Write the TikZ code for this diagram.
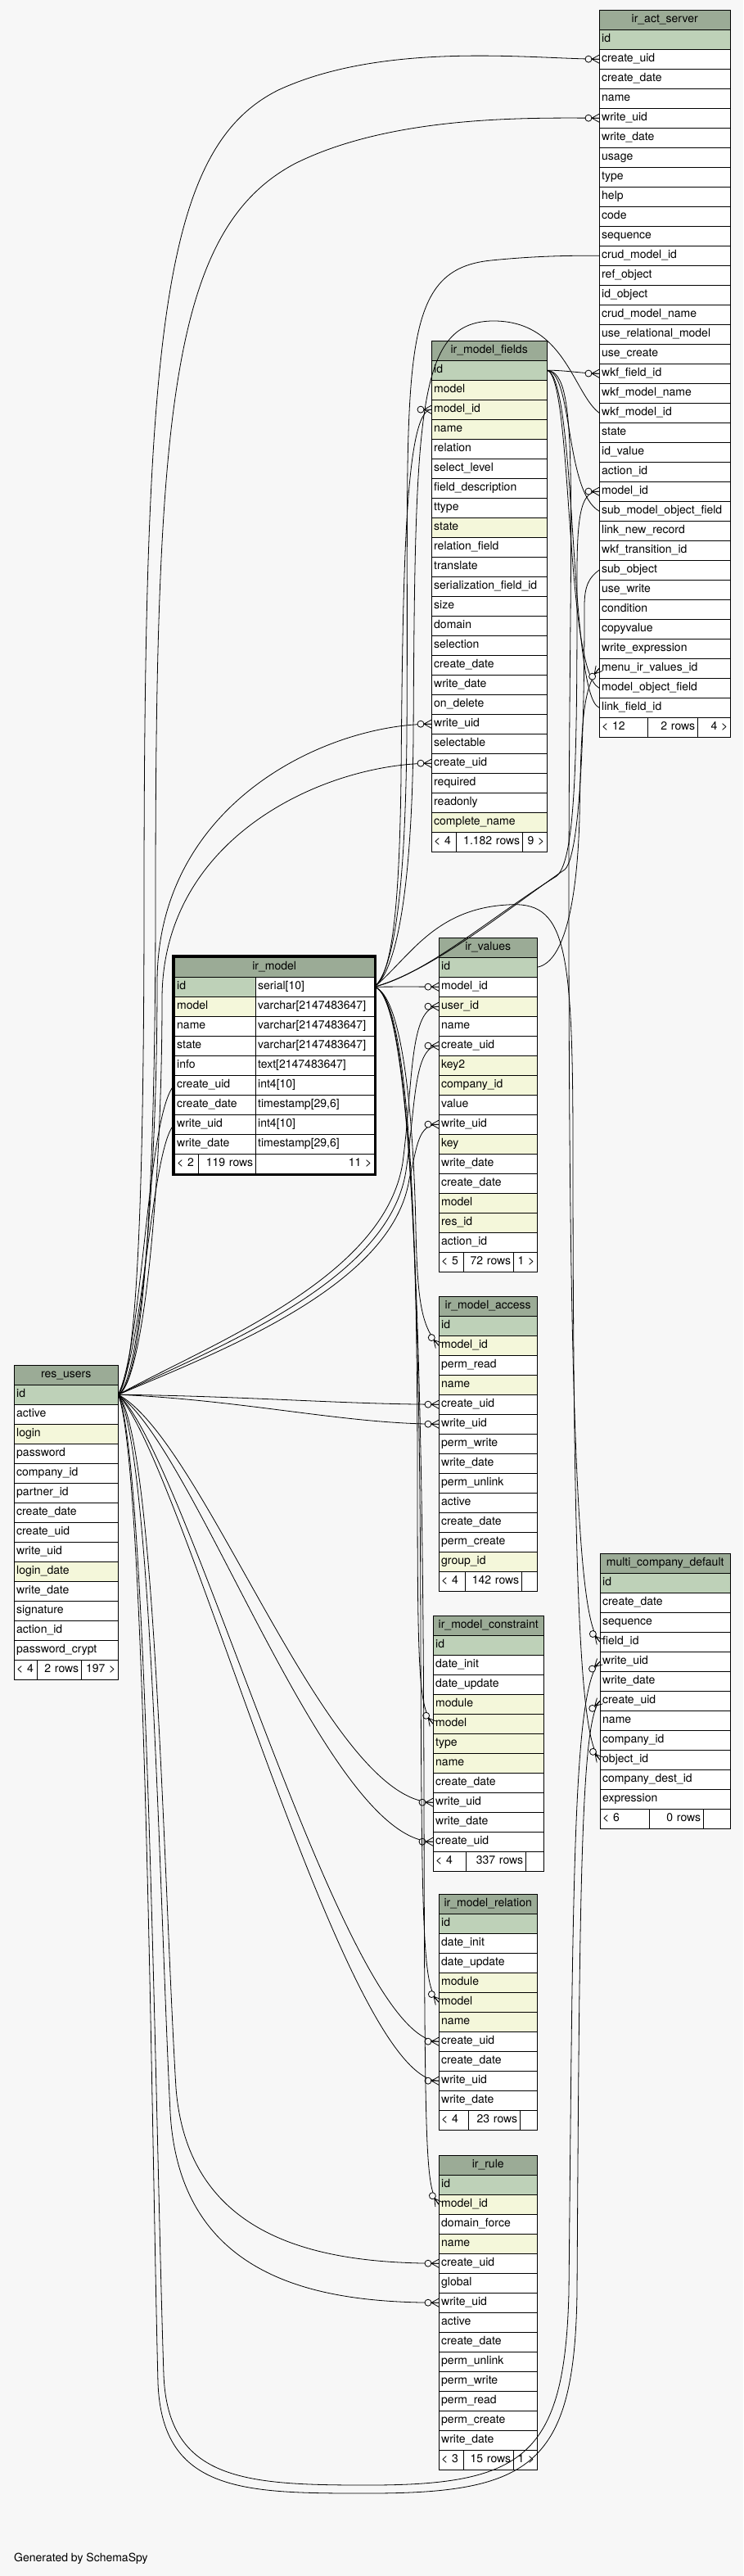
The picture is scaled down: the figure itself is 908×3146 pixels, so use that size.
\documentclass[tikz,border=0pt]{standalone}
\usepackage{fontspec}
\setmainfont{TeX Gyre Heros}
\usepackage{tikz}
\usetikzlibrary{decorations.markings}

\definecolor{bgc}{HTML}{F7F7F7}
\definecolor{headc}{HTML}{9BAB96}
\definecolor{pkc}{HTML}{BED1B8}
\definecolor{idxc}{HTML}{F4F7DA}

\begin{document}
\begin{tikzpicture}[x=1pt,y=-1pt]
\tikzstyle{headrow}=[draw, fill=headc, anchor=north west, minimum height=24pt, inner sep=0pt, text height=10pt, text depth=3pt, font=\fontsize{14}{16}\selectfont]
\tikzstyle{colrow}=[draw, fill=white, anchor=north west, minimum height=24pt, inner xsep=3pt, inner ysep=0pt, text height=10pt, text depth=3pt, align=left, font=\fontsize{14}{16}\selectfont]
\tikzstyle{fk}=[line width=0.8pt, postaction={decorate}, decoration={markings, mark=at position 1 with {\draw[line width=0.8pt, fill=bgc] (-13,0) circle[radius=4pt]; \draw[line width=0.8pt] (-9,0) -- (0,5) (-9,0) -- (0,-5) (-9,0) -- (0,0);}}]

\fill[bgc] (0,0) rectangle (908,3146);
\useasboundingbox (0,0) rectangle (908,3146);

% ir_act_server
\node[headrow, minimum width=160pt] (ias) at (732,12) {ir\_act\_server};
\foreach \cn/\cf [count=\i] in {id/pkc, create\_uid/white, create\_date/white, name/white, write\_uid/white, write\_date/white, usage/white, type/white, help/white, code/white, sequence/white, crud\_model\_id/white, ref\_object/white, id\_object/white, crud\_model\_name/white, use\_relational\_model/white, use\_create/white, wkf\_field\_id/white, wkf\_model\_name/white, wkf\_model\_id/white, state/white, id\_value/white, action\_id/white, model\_id/white, sub\_model\_object\_field/white, link\_new\_record/white, wkf\_transition\_id/white, sub\_object/white, use\_write/white, condition/white, copyvalue/white, write\_expression/white, menu\_ir\_values\_id/white, model\_object\_field/white, link\_field\_id/white}
  \node[colrow, fill=\cf, text width=154pt] (ias-\i) at (732,12+24*\i) {\cn};
\node[colrow, text width=53pt] (ias-f1) at (732,876) {< 12};
\node[colrow, text width=55pt, align=right] (ias-f2) at (791,876) {2 rows};
\node[colrow, text width=34pt, align=right] (ias-f3) at (852,876) {4 >};

% ir_model_fields
\node[headrow, minimum width=141pt] (fld) at (527,416) {ir\_model\_fields};
\foreach \cn/\cf [count=\i] in {id/pkc, model/idxc, model\_id/idxc, name/idxc, relation/white, select\_level/white, field\_description/white, ttype/white, state/idxc, relation\_field/white, translate/white, serialization\_field\_id/white, size/white, domain/white, selection/white, create\_date/white, write\_date/white, on\_delete/white, write\_uid/white, selectable/white, create\_uid/white, required/white, readonly/white, complete\_name/idxc}
  \node[colrow, fill=\cf, text width=135pt] (fld-\i) at (527,416+24*\i) {\cn};
\node[colrow, text width=24pt] (fld-f1) at (527,1016) {< 4};
\node[colrow, text width=75pt, align=right] (fld-f2) at (557,1016) {1.182 rows};
\node[colrow, text width=24pt, align=right] (fld-f3) at (638,1016) {9 >};

% ir_model
\node[headrow, minimum width=244pt] (im) at (213,1169) {ir\_model};
\foreach \cn/\ct/\cf [count=\i] in {id/serial[10]/pkc, model/varchar[2147483647]/idxc, name/varchar[2147483647]/white, state/varchar[2147483647]/white, info/text[2147483647]/white, create\_uid/int4[10]/white, create\_date/{timestamp[29,6]}/white, write\_uid/int4[10]/white, write\_date/{timestamp[29,6]}/white}
{
  \node[colrow, fill=\cf, text width=93pt] (im-\i) at (213,1169+24*\i) {\cn};
  \node[colrow, text width=139pt] (imt-\i) at (312,1169+24*\i) {\ct};
}
\node[colrow, text width=23pt] (im-f1) at (213,1409) {< 2};
\node[colrow, text width=64pt, align=right] (im-f2) at (242,1409) {119 rows};
\node[colrow, text width=139pt, align=right] (im-f3) at (312,1409) {11 >};
\draw[line width=3pt] (211.5,1167.5) rectangle (458.5,1434.5);

% ir_values
\node[headrow, minimum width=120pt] (val) at (536,1145) {ir\_values};
\foreach \cn/\cf [count=\i] in {id/pkc, model\_id/white, user\_id/idxc, name/white, create\_uid/white, key2/idxc, company\_id/idxc, value/white, write\_uid/white, key/idxc, write\_date/white, create\_date/white, model/idxc, res\_id/idxc, action\_id/white}
  \node[colrow, fill=\cf, text width=114pt] (val-\i) at (536,1145+24*\i) {\cn};
\node[colrow, text width=24pt] (val-f1) at (536,1529) {< 5};
\node[colrow, text width=55pt, align=right] (val-f2) at (566,1529) {72 rows};
\node[colrow, text width=23pt, align=right] (val-f3) at (627,1529) {1 >};

% ir_model_access
\node[headrow, minimum width=120pt] (acc) at (536,1583) {ir\_model\_access};
\foreach \cn/\cf [count=\i] in {id/pkc, model\_id/idxc, perm\_read/white, name/idxc, create\_uid/white, write\_uid/white, perm\_write/white, write\_date/white, perm\_unlink/white, active/white, create\_date/white, perm\_create/white, group\_id/idxc}
  \node[colrow, fill=\cf, text width=114pt] (acc-\i) at (536,1583+24*\i) {\cn};
\node[colrow, text width=26pt] (acc-f1) at (536,1919) {< 4};
\node[colrow, text width=63pt, align=right] (acc-f2) at (568,1919) {142 rows};
\node[colrow, text width=13pt] (acc-f3) at (637,1919) {};

% ir_model_constraint
\node[headrow, minimum width=135pt] (con) at (529,1973) {ir\_model\_constraint};
\foreach \cn/\cf [count=\i] in {id/pkc, date\_init/white, date\_update/white, module/idxc, model/idxc, type/idxc, name/idxc, create\_date/white, write\_uid/white, write\_date/white, create\_uid/white}
  \node[colrow, fill=\cf, text width=129pt] (con-\i) at (529,1973+24*\i) {\cn};
\node[colrow, text width=34pt] (con-f1) at (529,2261) {< 4};
\node[colrow, text width=67pt, align=right] (con-f2) at (569,2261) {337 rows};
\node[colrow, text width=16pt] (con-f3) at (642,2261) {};

% ir_model_relation
\node[headrow, minimum width=120pt] (rel) at (536,2313) {ir\_model\_relation};
\foreach \cn/\cf [count=\i] in {id/pkc, date\_init/white, date\_update/white, module/idxc, model/idxc, name/idxc, create\_uid/white, create\_date/white, write\_uid/white, write\_date/white}
  \node[colrow, fill=\cf, text width=114pt] (rel-\i) at (536,2313+24*\i) {\cn};
\node[colrow, text width=30pt] (rel-f1) at (536,2577) {< 4};
\node[colrow, text width=57pt, align=right] (rel-f2) at (572,2577) {23 rows};
\node[colrow, text width=15pt] (rel-f3) at (635,2577) {};

% ir_rule
\node[headrow, minimum width=120pt] (rule) at (536,2632) {ir\_rule};
\foreach \cn/\cf [count=\i] in {id/pkc, model\_id/idxc, domain\_force/white, name/idxc, create\_uid/white, global/white, write\_uid/white, active/white, create\_date/white, perm\_unlink/white, perm\_write/white, perm\_read/white, perm\_create/white, write\_date/white}
  \node[colrow, fill=\cf, text width=114pt] (rule-\i) at (536,2632+24*\i) {\cn};
\node[colrow, text width=24pt] (rule-f1) at (536,2992) {< 3};
\node[colrow, text width=55pt, align=right] (rule-f2) at (566,2992) {15 rows};
\node[colrow, text width=23pt, align=right] (rule-f3) at (627,2992) {1 >};

% res_users
\node[headrow, minimum width=127pt] (ru) at (17,1667) {res\_users};
\foreach \cn/\cf [count=\i] in {id/pkc, active/white, login/idxc, password/white, company\_id/white, partner\_id/white, create\_date/white, create\_uid/white, write\_uid/white, login\_date/idxc, write\_date/white, signature/white, action\_id/white, password\_crypt/white}
  \node[colrow, fill=\cf, text width=121pt] (ru-\i) at (17,1667+24*\i) {\cn};
\node[colrow, text width=22pt] (ru-f1) at (17,2027) {< 4};
\node[colrow, text width=48pt, align=right] (ru-f2) at (45,2027) {2 rows};
\node[colrow, text width=39pt, align=right] (ru-f3) at (99,2027) {197 >};

% multi_company_default
\node[headrow, minimum width=159pt] (mcd) at (733,1897) {multi\_company\_default};
\foreach \cn/\cf [count=\i] in {id/pkc, create\_date/white, sequence/white, field\_id/white, write\_uid/white, write\_date/white, create\_uid/white, name/white, company\_id/white, object\_id/white, company\_dest\_id/white, expression/white}
  \node[colrow, fill=\cf, text width=153pt] (mcd-\i) at (733,1897+24*\i) {\cn};
\node[colrow, text width=54pt] (mcd-f1) at (733,2209) {< 6};
\node[colrow, text width=60pt, align=right] (mcd-f2) at (793,2209) {0 rows};
\node[colrow, text width=27pt] (mcd-f3) at (859,2209) {};

\node[anchor=west, inner sep=0pt, font=\fontsize{14}{16}\selectfont] (gen) at (17,3125) {Generated by SchemaSpy};

% res_users.id
\draw[fk] (ru-1.east) .. controls (165,1680) and (176,1500) .. (176,1100) .. controls (176,400) and (200,180) .. (340,110) .. controls (470,50) and (650,72) .. (ias-2.west);
\draw[fk] (ru-1.east) .. controls (172,1690) and (190,1500) .. (190,1100) .. controls (190,500) and (210,280) .. (360,200) .. controls (480,140) and (650,144) .. (ias-5.west);
\draw[fk] (ru-1.east) .. controls (170,1690) and (192,1450) .. (192,1200) .. controls (192,980) and (400,884) .. (fld-19.west);
\draw[fk] (ru-1.east) .. controls (175,1690) and (198,1450) .. (198,1220) .. controls (198,1020) and (400,932) .. (fld-21.west);
\draw[fk] (ru-1.east) .. controls (175,1640) and (180,1360) .. (im-6.west);
\draw[fk] (ru-1.east) .. controls (175,1650) and (185,1400) .. (im-8.west);
\draw[fk] (ru-1.east) .. controls (260,1640) and (470,1560) .. (492,1420) .. controls (505,1320) and (500,1229) .. (val-3.west);
\draw[fk] (ru-1.east) .. controls (265,1645) and (475,1565) .. (496,1430) .. controls (508,1350) and (505,1277) .. (val-5.west);
\draw[fk] (ru-1.east) .. controls (270,1650) and (480,1570) .. (500,1440) .. controls (510,1400) and (510,1373) .. (val-9.west);
\draw[fk] (ru-1.east) .. controls (300,1705) and (420,1715) .. (acc-5.west);
\draw[fk] (ru-1.east) .. controls (300,1710) and (420,1739) .. (acc-6.west);
\draw[fk] (ru-1.east) .. controls (250,1760) and (400,2201) .. (con-9.west);
\draw[fk] (ru-1.east) .. controls (240,1770) and (400,2249) .. (con-11.west);
\draw[fk] (ru-1.east) .. controls (230,1780) and (420,2493) .. (rel-7.west);
\draw[fk] (ru-1.east) .. controls (225,1790) and (420,2541) .. (rel-9.west);
\draw[fk] (ru-1.east) .. controls (190,1760) and (200,2300) .. (215,2550) .. controls (230,2740) and (400,2764) .. (rule-5.west);
\draw[fk] (ru-1.east) .. controls (185,1770) and (195,2320) .. (208,2580) .. controls (220,2790) and (400,2812) .. (rule-7.west);
\draw[fk] (ru-1.east) .. controls (180,1780) and (190,2600) .. (200,2900) .. controls (205,3030) and (300,3035) .. (450,3035) .. controls (640,3035) and (690,3000) .. (695,2800) .. controls (700,2300) and (700,2060) .. (mcd-5.west);
\draw[fk] (ru-1.east) .. controls (178,1790) and (185,2600) .. (193,2910) .. controls (198,3045) and (300,3045) .. (450,3045) .. controls (650,3045) and (702,3010) .. (705,2800) .. controls (708,2300) and (710,2100) .. (mcd-7.west);

% ir_model.id
\draw[fk] (imt-1.east) .. controls (490,1205) and (500,1205) .. (val-2.west);
\draw[fk] (imt-1.east) .. controls (480,1190) and (488,1100) .. (490,950) .. controls (492,700) and (495,500) .. (fld-3.west);
\draw[fk] (imt-1.east) .. controls (480,1185) and (495,1100) .. (497,900) .. controls (500,450) and (480,330) .. (600,318) .. controls (650,313) and (690,312) .. (ias-12.west);
\draw[fk] (imt-1.east) .. controls (482,1188) and (503,1100) .. (505,900) .. controls (507,500) and (510,395) .. (600,392) .. controls (690,390) and (700,480) .. (ias-20.west);
\draw[fk] (imt-1.east) .. controls (520,1190) and (600,1120) .. (680,1070) .. controls (705,1050) and (705,900) .. (705,700) .. controls (705,620) and (712,600) .. (ias-24.west);
\draw[fk] (imt-1.east) .. controls (530,1185) and (620,1110) .. (690,1062) .. controls (714,1040) and (714,800) .. (714,740) .. controls (714,715) and (720,705) .. (ias-28.west);
\draw[fk] (imt-1.east) .. controls (490,1215) and (505,1350) .. (508,1500) .. controls (510,1590) and (515,1620) .. (acc-2.west);
\draw[fk] (imt-1.east) .. controls (492,1215) and (510,1400) .. (510,1800) .. controls (510,2050) and (512,2085) .. (con-5.west);
\draw[fk] (imt-1.east) .. controls (494,1215) and (513,1450) .. (514,2000) .. controls (515,2390) and (518,2425) .. (rel-5.west);
\draw[fk] (imt-1.east) .. controls (496,1215) and (517,1500) .. (518,2200) .. controls (519,2640) and (520,2670) .. (rule-2.west);
\draw[fk] (imt-1.east) .. controls (500,1170) and (530,1110) .. (620,1105) .. controls (690,1100) and (700,1150) .. (700,1400) .. controls (700,2000) and (712,2125) .. (mcd-10.west);

% ir_model_fields.id
\draw[fk] (fld-1.east) .. controls (690,452) and (710,456) .. (ias-18.west);
\draw[fk] (fld-1.east) .. controls (700,455) and (690,600) .. (ias-25.west);
\draw[fk] (fld-1.east) .. controls (700,460) and (690,820) .. (ias-34.west);
\draw[fk] (fld-1.east) .. controls (705,460) and (695,850) .. (ias-35.west);
\draw[fk] (fld-1.east) .. controls (710,455) and (695,600) .. (695,1100) .. controls (695,1900) and (715,1985) .. (mcd-4.west);

% ir_values.id
\draw[fk] (val-1.east) .. controls (690,1175) and (705,1100) .. (708,1000) .. controls (710,880) and (712,840) .. (ias-33.west);
\end{tikzpicture}
\end{document}
